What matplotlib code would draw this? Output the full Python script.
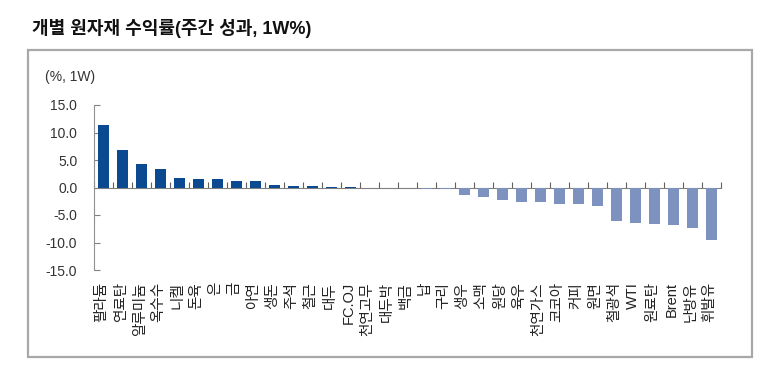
import matplotlib
matplotlib.use('Agg')
from matplotlib import pyplot as plt
from matplotlib.patches import Rectangle
from matplotlib.transforms import blended_transform_factory
import numpy as np

plt.rcParams['font.family'] = ['Liberation Sans', 'Noto Sans CJK KR']

title = '개별 원자재 수익률(주간 성과, 1W%)'
unit = '(%, 1W)'

names = ['팔라듐', '연료탄', '알루미늄', '옥수수', '니켈', '돈육', '은', '금', '아연', '생돈',
         '주석', '철근', '대두', 'FC.OJ', '천연고무', '대두박', '백금', '납', '구리', '생우',
         '소맥', '원당', '육우', '천연가스', '코코아', '커피', '원면', '철광석', 'WTI', '원료탄',
         'Brent', '난방유', '휘발유']
returns = [11.3, 6.8, 4.2, 3.45, 1.7, 1.5, 1.5, 1.15, 1.1, 0.42,
           0.22, 0.2, 0.15, 0.05, 0.0, 0.0, 0.0, -0.25, -0.35, -1.45,
           -1.8, -2.35, -2.55, -2.55, -3.0, -3.0, -3.3, -6.05, -6.4, -6.65,
           -6.8, -7.4, -9.6]
yticks = [15, 10, 5, 0, -5, -10, -15]

pos_color = '#0B4A91'
neg_color = '#7E92BF'

fig = plt.figure(figsize=(7.63, 3.78), dpi=100)

# outer gray frame
fig.patches.append(Rectangle((28/763, 1-357/378), (752-28)/763, (357-50)/378,
                             transform=fig.transFigure, fill=False,
                             edgecolor='#A8A8A8', linewidth=1.6))
fig.text(32/763, 1-28/378, title, fontsize=13, fontweight='bold',
         va='center', ha='left', color='#111111')
fig.text(45/763, 1-77/378, unit, fontsize=10, va='center', ha='left', color='#333333')

ax = fig.add_axes([94/763, 1-270/378, (720.7-94)/763, 165/378])
x = np.arange(len(names))
vals = np.array(returns)
colors = [pos_color if v >= 0 else neg_color for v in vals]
ax.bar(x, vals, width=0.6, color=colors, zorder=3)

ax.set_xlim(-0.5, len(names) - 0.5)
ax.set_ylim(-15, 15)
ax.set_yticks(yticks)
ax.set_yticklabels([f'{t:.1f}' for t in yticks], fontsize=10, color='#333333')
ax.tick_params(axis='y', direction='in', length=4, color='#808080', pad=12)

ax.spines['top'].set_visible(False)
ax.spines['right'].set_visible(False)
ax.spines['left'].set_color('#909090')
ax.spines['bottom'].set_position(('data', 0))
ax.spines['bottom'].set_color('#808080')
ax.spines['bottom'].set_zorder(2)
ax.set_xticks(np.arange(len(names) + 1) - 0.5)
ax.set_xticklabels([])
ax.tick_params(axis='x', direction='in', length=4, color='#606060')

trans = blended_transform_factory(ax.transData, fig.transFigure)
for i, n in enumerate(names):
    ax.text(i - 0.1, 1-282/378, n, transform=trans, rotation=90,
            ha='center', va='top', fontsize=10.5, color='#222222')

fig.savefig('out.png', dpi=100)
